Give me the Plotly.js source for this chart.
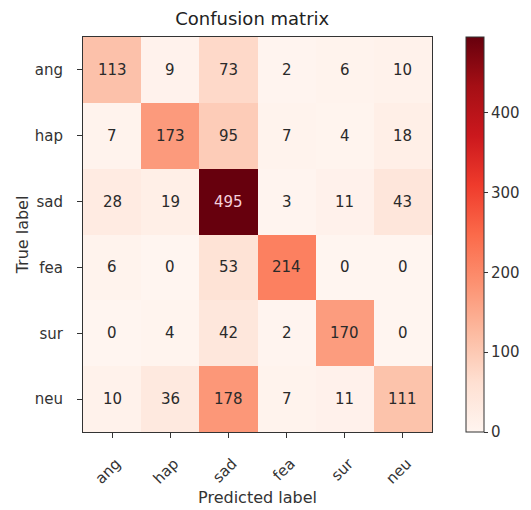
<!DOCTYPE html>
<html>
<head>
<meta charset="utf-8">
<script src="https://cdn.plot.ly/plotly-3.0.1.min.js"></script>
<style>html,body{margin:0;padding:0;background:#fff;}#chart{width:531px;height:510px;}</style>
</head>
<body>
<div id="chart"></div>
<script>
var predictedLabels = ['ang', 'hap', 'sad', 'fea', 'sur', 'neu'];
var trueLabels = ['ang', 'hap', 'sad', 'fea', 'sur', 'neu'];
var rowAng = [113, 9, 73, 2, 6, 10];
var rowHap = [7, 173, 95, 7, 4, 18];
var rowSad = [28, 19, 495, 3, 11, 43];
var rowFea = [6, 0, 53, 214, 0, 0];
var rowSur = [0, 4, 42, 2, 170, 0];
var rowNeu = [10, 36, 178, 7, 11, 111];
var colorbarTicks = [0, 100, 200, 300, 400];

var z = [rowAng, rowHap, rowSad, rowFea, rowSur, rowNeu];
var zmax = Math.max.apply(null, z.map(function(r){return Math.max.apply(null, r);}));
var thresh = zmax / 2;

var reds = [
  [0.0, '#fff5f0'], [0.125, '#fee0d2'], [0.25, '#fcbba1'], [0.375, '#fc9272'],
  [0.5, '#fb6a4a'], [0.625, '#ef3b2c'], [0.75, '#cb181d'], [0.875, '#a50f15'], [1.0, '#67000d']
];

var annotations = [];
for (var i = 0; i < trueLabels.length; i++) {
  for (var j = 0; j < predictedLabels.length; j++) {
    annotations.push({
      x: predictedLabels[j], y: trueLabels[i], xref: 'x', yref: 'y',
      text: String(z[i][j]), showarrow: false,
      font: {family: 'DejaVu Sans', size: 15, color: z[i][j] > thresh ? '#f6d0dc' : '#2a2a2a'}
    });
  }
}

var trace = {
  type: 'heatmap', x: predictedLabels, y: trueLabels, z: z,
  colorscale: reds, zmin: 0, zmax: zmax, xgap: 0, ygap: 0,
  hoverinfo: 'skip',
  colorbar: {
    x: 1.094, xanchor: 'left', xpad: 0, ypad: 0,
    y: 0.5, yanchor: 'middle', len: 1.0, lenmode: 'fraction',
    thickness: 18, outlinewidth: 1, outlinecolor: '#333',
    tickvals: colorbarTicks, ticks: 'outside', ticklen: 4, tickcolor: '#333',
    tickfont: {family: 'DejaVu Sans', size: 15, color: '#333'}
  }
};

var layout = {
  width: 531, height: 510,
  margin: {l: 83, r: 98, t: 37, b: 78},
  paper_bgcolor: '#fff', plot_bgcolor: '#fff',
  title: {text: 'Confusion matrix', x: 0.475, xanchor: 'center', y: 0.975, yanchor: 'top',
          font: {family: 'DejaVu Sans', size: 18, color: '#222'}},
  xaxis: {
    type: 'category', tickangle: -45, ticks: 'outside', ticklen: 5, tickcolor: '#333',
    ticklabelstandoff: 11, ticklabelshift: 4,
    showline: true, linecolor: '#333', linewidth: 1, mirror: true, showgrid: false, zeroline: false,
    tickfont: {family: 'DejaVu Sans', size: 15, color: '#333'},
    title: {text: 'Predicted label', font: {family: 'DejaVu Sans', size: 16, color: '#333'}, standoff: 5}
  },
  yaxis: {
    type: 'category', autorange: 'reversed', ticks: 'outside', ticklen: 5, tickcolor: '#333',
    ticklabelstandoff: 11,
    showline: true, linecolor: '#333', linewidth: 1, mirror: true, showgrid: false, zeroline: false,
    tickfont: {family: 'DejaVu Sans', size: 15, color: '#333'},
    title: {text: 'True label', font: {family: 'DejaVu Sans', size: 16, color: '#333'}, standoff: 2}
  },
  annotations: annotations
};

Plotly.newPlot('chart', [trace], layout, {displayModeBar: false, staticPlot: true});
</script>
</body>
</html>
